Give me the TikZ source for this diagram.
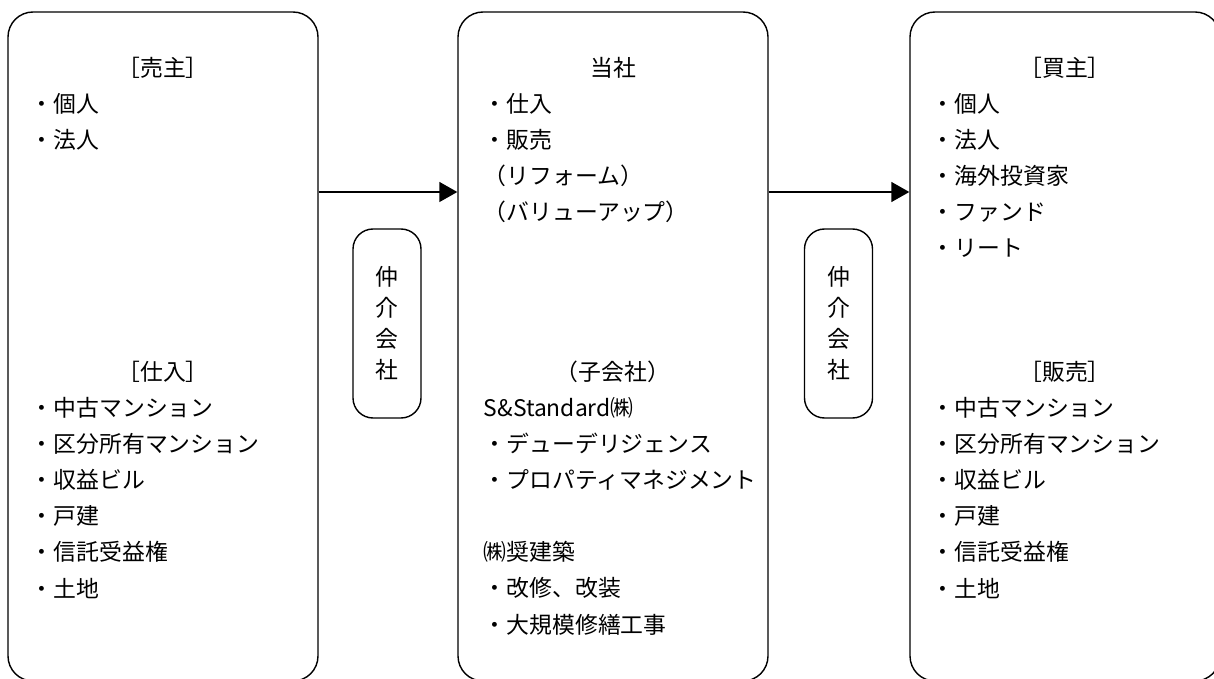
\documentclass[tikz,border=0pt]{standalone}
\usepackage{fontspec}
\setmainfont{Noto Sans CJK JP}
\usetikzlibrary{arrows.meta}

\begin{document}
\begin{tikzpicture}[>={Triangle[length=3.6mm, width=4mm]},
  party/.style={draw, rounded corners=5mm, line width=0.8pt, minimum width=6.2cm, minimum height=13.38cm},
  agent/.style={draw, rounded corners=4mm, line width=0.8pt, minimum width=1.36cm, minimum height=3.78cm,
    align=center, font={\fontsize{13pt}{17.6pt}\selectfont}},
  heading/.style={font={\fontsize{13pt}{20.5pt}\selectfont}},
  items/.style={anchor=base west, align=left, inner sep=0pt, font={\fontsize{13pt}{20.5pt}\selectfont}},
  arrow/.style={->, line width=0.8pt}
]
  \useasboundingbox (0,0) rectangle (24.28,13.56);

  % Boxes for the three parties
  \node[party] (seller) at (3.26,6.63) {};
  \node[party] (company) at (12.26,6.63) {};
  \node[party] (buyer) at (21.3,6.63) {};

  % Broker boxes between them
  \node[agent] (brokerL) at (7.74,7.09) {仲\\介\\会\\社};
  \node[agent] (brokerR) at (16.77,7.09) {仲\\介\\会\\社};

  % Seller side (lists sit on the baseline of their last line)
  \node[heading] (sellerhead) at (3.26,12.2) {［売主］};
  \node[items] (sellerlist) at (0.61,10.58) {・個人\\・法人};
  \node[heading] (buyhead) at (3.26,6.12) {［仕入］};
  \node[items] (buylist) at (0.61,1.62) {・中古マンション\\・区分所有マンション\\・収益ビル\\・戸建\\・信託受益権\\・土地};

  % Company
  \node[heading] (companyhead) at (12.26,12.2) {当社};
  \node[items] (companylist) at (9.67,9.14) {・仕入\\・販売\\（リフォーム）\\（バリューアップ）};
  \node[heading] (subhead) at (12.26,6.12) {（子会社）};
  \node[items] (sublist) at (9.67,0.90) {S\&Standard㈱\\・デューデリジェンス\\・プロパティマネジメント\\[0.72cm]㈱奨建築\\・改修、改装\\・大規模修繕工事};

  % Buyer side
  \node[heading] (buyerhead) at (21.3,12.2) {［買主］};
  \node[items] (buyerlist) at (18.63,8.42) {・個人\\・法人\\・海外投資家\\・ファンド\\・リート};
  \node[heading] (salehead) at (21.3,6.12) {［販売］};
  \node[items] (salelist) at (18.63,1.62) {・中古マンション\\・区分所有マンション\\・収益ビル\\・戸建\\・信託受益権\\・土地};

  % Flow arrows
  \coordinate (flow) at (0,9.72);
  \draw[arrow] (seller.east |- flow) -- (company.west |- flow);
  \draw[arrow] (company.east |- flow) -- (buyer.west |- flow);

\end{tikzpicture}
\end{document}
